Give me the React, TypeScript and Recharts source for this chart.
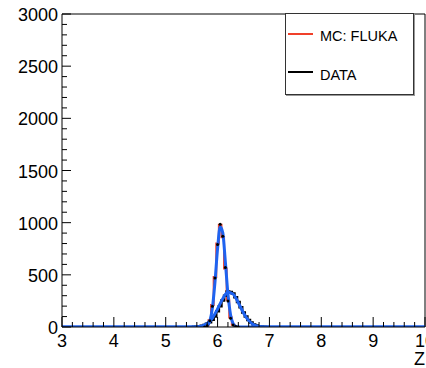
import { ComposedChart, Line, XAxis, YAxis, ReferenceLine } from 'recharts'

// narrow peak (MC: FLUKA histogram + fit), bins of 0.05
const narrowX = [5.75, 5.8, 5.85, 5.9, 5.95, 6.0, 6.05, 6.1, 6.15, 6.2, 6.25, 6.3, 6.35, 6.4]
const mcFluka = [2, 15, 65, 210, 480, 800, 980, 860, 560, 260, 90, 22, 5, 0]
const narrowPts = [1, 12, 60, 200, 470, 790, 985, 870, 570, 250, 85, 20, 4, 0]

// fit curves, including the flat tails out to the axis ends
const narrowFitX = [3, 5.7, 5.75, 5.8, 5.85, 5.9, 5.95, 6.0, 6.05, 6.1, 6.15, 6.2, 6.25, 6.3, 6.35, 6.4, 10]
const narrowFit = [0, 0, 3, 13, 56, 182, 431, 751, 961, 904, 624, 317, 118, 32, 7, 1, 0]

// wide peak (DATA)
const wideX = [5.5, 5.55, 5.6, 5.65, 5.7, 5.75, 5.8, 5.85, 5.9, 5.95, 6.0, 6.05, 6.1, 6.15, 6.2, 6.25,
  6.3, 6.35, 6.4, 6.45, 6.5, 6.55, 6.6, 6.65, 6.7, 6.75, 6.8, 6.85, 6.9, 6.95, 7.0]
const dataCounts = [1, 2, 4, 6, 12, 18, 30, 45, 70, 100, 150, 200, 255, 300, 340, 335,
  320, 285, 240, 190, 140, 100, 68, 42, 25, 14, 7, 4, 2, 1, 0]

const wideFitX = [3, 5.5, 5.6, 5.7, 5.8, 5.9, 6.0, 6.1, 6.2, 6.3, 6.4, 6.5, 6.6, 6.7, 6.8, 6.9, 7.0, 10]
const wideFit = [0, 0, 2, 10, 33, 86, 173, 271, 332, 315, 233, 135, 61, 21, 6, 1, 0, 0]

const yMajor = [0, 500, 1000, 1500, 2000, 2500, 3000]
const xMajor = [3, 4, 5, 6, 7, 8, 9, 10]

const yTicks = Array.from({ length: 31 }, (_, i) => i * 100)
const xTicks = Array.from({ length: 36 }, (_, i) => Math.round((3 + i * 0.2) * 10) / 10)

const toPts = (xs: number[], ys: number[]) => xs.map((x, i) => ({ x, y: ys[i] }))

const mcData = toPts(narrowX, mcFluka)
const narrowPtData = toPts(narrowX, narrowPts)
const narrowFitData = toPts(narrowFitX, narrowFit)
const wideData = toPts(wideX, dataCounts)
const wideFitData = toPts(wideFitX, wideFit)

const FONT = '"Liberation Sans", Arial, sans-serif'
const RED = '#f0402a'
const BLUE = '#1f63f0'

const YTick = ({ x, y, payload }: any) => {
  const v = payload.value
  const major = yMajor.includes(v)
  return (
    <g>
      <line x1={x} x2={x + (major ? 9 : 5)} y1={y} y2={y} stroke="#000" />
      {major && (
        <text x={x - 4} y={y + 7} textAnchor="end" fontSize={18} fontFamily={FONT} fill="#000">
          {v}
        </text>
      )}
    </g>
  )
}

const XTick = ({ x, y, payload }: any) => {
  const v = payload.value
  const major = xMajor.includes(v)
  return (
    <g>
      <line x1={x} x2={x} y1={y} y2={y - (major ? 10 : 5)} stroke="#000" />
      {major && (
        <text x={x} y={y + 20} textAnchor="middle" fontSize={18} fontFamily={FONT} fill="#000">
          {v}
        </text>
      )}
    </g>
  )
}

const LegendBox = () => (
  <div
    style={{
      position: 'absolute',
      left: 285,
      top: 13,
      width: 127,
      height: 80,
      border: '1px solid #333',
      boxShadow: '1px 1px 0 #999',
      background: '#fff',
      fontFamily: FONT,
      fontSize: 14.5,
      lineHeight: 'normal',
    }}
  >
    <div style={{ position: 'absolute', left: 2, top: 19, width: 25, height: 2, background: RED }} />
    <div style={{ position: 'absolute', left: 34, top: 14 }}>MC: FLUKA</div>
    <div style={{ position: 'absolute', left: 2, top: 57, width: 25, height: 2, background: '#000' }} />
    <div style={{ position: 'absolute', left: 34, top: 53 }}>DATA</div>
  </div>
)

export default function App() {
  return (
    <div style={{ position: 'absolute', left: 0, top: 0, width: 426, height: 368, background: '#fff', overflow: 'hidden' }}>
      <ComposedChart width={426} height={368} margin={{ top: 14, right: 1, left: 0, bottom: 0 }}>
        <XAxis
          type="number"
          dataKey="x"
          domain={[3, 10]}
          ticks={xTicks}
          interval={0}
          tick={<XTick />}
          tickSize={0}
          tickMargin={0}
          tickLine={false}
          height={41}
          stroke="#000"
          allowDataOverflow
        />
        <YAxis
          type="number"
          domain={[0, 3000]}
          ticks={yTicks}
          interval={0}
          tick={<YTick />}
          tickSize={0}
          tickMargin={0}
          tickLine={false}
          width={62}
          stroke="#000"
          allowDataOverflow
        />
        <ReferenceLine y={3000} stroke="#000" />
        <ReferenceLine x={10} stroke="#000" />
        <Line data={mcData} dataKey="y" type="step" stroke={RED} strokeWidth={2} dot={false} isAnimationActive={false} />
        <Line
          data={narrowPtData}
          dataKey="y"
          stroke="none"
          dot={{ r: 1.5, fill: '#000', stroke: 'none' }}
          isAnimationActive={false}
        />
        <Line data={wideData} dataKey="y" type="step" stroke="#000" strokeWidth={2.5} dot={false} isAnimationActive={false} />
        <Line data={narrowFitData} dataKey="y" type="monotone" stroke={BLUE} strokeWidth={3} dot={false} isAnimationActive={false} />
        <Line data={wideFitData} dataKey="y" type="monotone" stroke={BLUE} strokeWidth={3} dot={false} isAnimationActive={false} />
      </ComposedChart>
      <LegendBox />
      <div style={{ position: 'absolute', left: 414, top: 351, fontFamily: FONT, fontSize: 18, lineHeight: '17px' }}>Z</div>
    </div>
  )
}
